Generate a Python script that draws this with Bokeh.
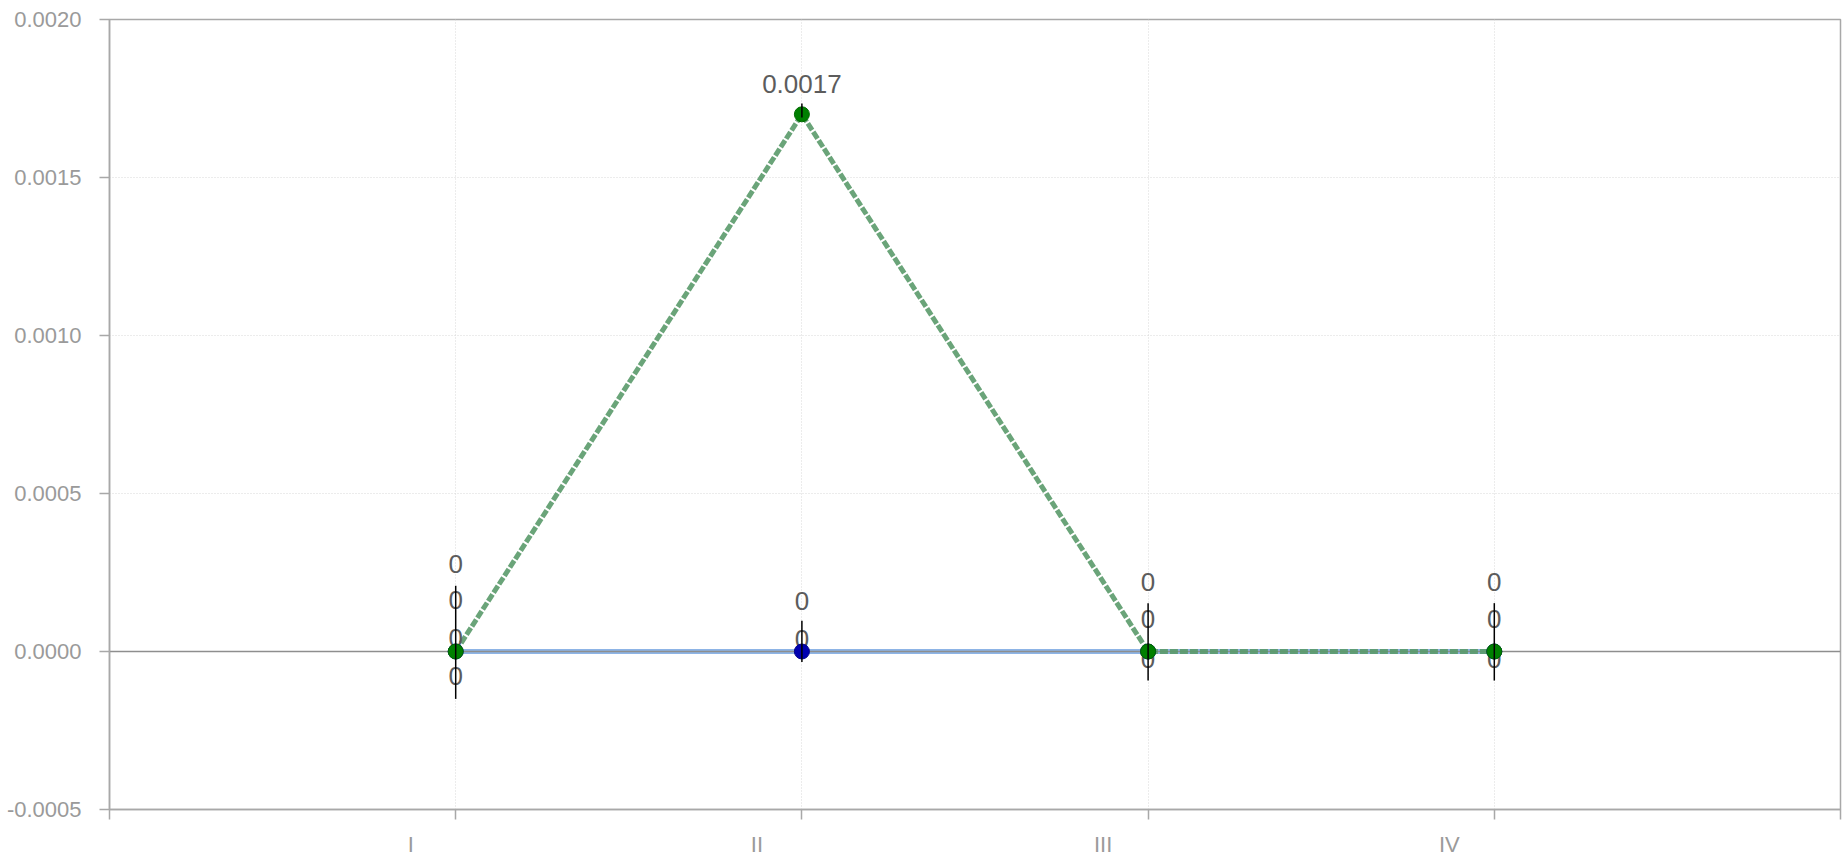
from bokeh.plotting import figure
from bokeh.models import (Range1d, FixedTicker, PrintfTickFormatter, LinearAxis,
                          ColumnDataSource)
from bokeh.core.properties import value
from bokeh.embed import file_html
from bokeh.resources import INLINE

# ---------------- data ----------------
categories = ["I", "II", "III", "IV"]
blue_values = [0.0, 0.0, 0.0, 0.0]
green_values = [0.0, 0.0017, 0.0, 0.0]

# error bars (category, low, high)
bar_cat = ["I", "II", "II", "III", "IV"]
bar_low = [-0.00015, -0.000033, 0.00169, -0.000092, -0.000092]
bar_high = [0.000208, 0.0000975, 0.001734, 0.000153, 0.000153]

# value labels (category, y value, text)
label_cat = ["I", "I", "I", "I", "II", "II", "II", "III", "III", "III", "IV", "IV", "IV"]
label_y = [0.000277, 0.000163, 0.000043, -0.000076,
           0.00016, 0.00004, 0.001797,
           0.00022, 0.000103, -0.000023,
           0.00022, 0.000103, -0.000023]
label_text = ["0", "0", "0", "0", "0", "0", "0.0017", "0", "0", "0", "0", "0", "0"]

y_ticks = [-0.0005, 0.0, 0.0005, 0.0010, 0.0015, 0.0020]

# ---------------- helpers ----------------
def xpos(c):
    return categories.index(c) + 1

xs = [xpos(c) for c in categories]

FONT = "Liberation Sans"
AXIS_GRAY = "#a8a8a8"
W, H = 1844, 859
ML, MR, MT, MB = 109, 4, 19, 48
X_END = len(categories) + 1
LABEL_SHIFT = 45 * X_END / (W - ML - MR)   # tick labels sit 45px left of ticks

p = figure(width=W, height=H, output_backend="svg", toolbar_location=None,
           x_range=Range1d(0, X_END), y_range=Range1d(y_ticks[0], y_ticks[-1]),
           min_border_left=ML, min_border_right=MR, min_border_top=MT,
           min_border_bottom=MB)
p.background_fill_color = "white"
p.border_fill_color = "white"
p.outline_line_color = AXIS_GRAY
p.outline_line_width = 1.5

# axes
p.xaxis.ticker = FixedTicker(ticks=[0] + xs + [X_END])
p.xaxis.major_label_text_font_size = "0px"
p.xaxis.major_label_text_color = None
p.xaxis.major_label_standoff = 0
p.yaxis.ticker = FixedTicker(ticks=y_ticks)
p.yaxis.formatter = PrintfTickFormatter(format="%.4f")
p.yaxis.major_label_text_font = FONT
p.yaxis.major_label_text_font_size = "22px"
p.yaxis.major_label_text_color = "#9a9a9a"
p.yaxis.major_label_standoff = 18
for ax in (p.xaxis[0], p.yaxis[0]):
    ax.axis_line_color = AXIS_GRAY
    ax.axis_line_width = 1.5
    ax.major_tick_line_color = AXIS_GRAY
    ax.major_tick_line_width = 1.5
    ax.major_tick_out = 10
    ax.major_tick_in = 0
    ax.minor_tick_line_color = None

# category label axis (labels only, shifted left as in reference)
label_ticks = [round(x - LABEL_SHIFT, 6) for x in xs]
cat_axis = LinearAxis(ticker=FixedTicker(ticks=label_ticks),
                      major_label_overrides={t: c for t, c in zip(label_ticks, categories)},
                      axis_line_color=None, major_tick_line_color=None,
                      minor_tick_line_color=None, major_label_standoff=6,
                      major_label_text_font=FONT, major_label_text_font_size="22px",
                      major_label_text_color="#9a9a9a")
p.add_layout(cat_axis, "below")

# grids
p.xgrid.ticker = FixedTicker(ticks=xs)
p.ygrid.ticker = FixedTicker(ticks=y_ticks)
for g in (p.xgrid[0], p.ygrid[0]):
    g.grid_line_color = "#d8d8d8"
    g.grid_line_dash = "1 2"
    g.grid_line_width = 1

# blue series line
p.line(xs, blue_values, line_color="#8db4e6", line_width=5)
# zero line
p.hspan(y=[0.0], line_color="#8e8e8e", line_width=1.5)
# green dashed series line
p.line(xs, green_values, line_color="#5a9a6a", line_width=5, line_dash="8 2",
       line_alpha=0.9)

# value labels
lsrc = ColumnDataSource(dict(x=[xpos(c) for c in label_cat], y=label_y, text=label_text))
p.text(x="x", y="y", text="text", source=lsrc, text_font=value(FONT),
       text_font_size="26px", text_color="#5c5c5c", text_align="center",
       text_baseline="middle")

# markers
p.scatter(xs, blue_values, size=15, fill_color="#0000b0", line_color="#00008a")
p.scatter(xs, green_values, size=15, fill_color="#008000", line_color="#006a00")

# error bars
bx = [xpos(c) for c in bar_cat]
p.segment(x0=bx, y0=bar_low, x1=bx, y1=bar_high, line_color="black", line_width=1.5)

open("out.html", "w").write(file_html(p, INLINE))
